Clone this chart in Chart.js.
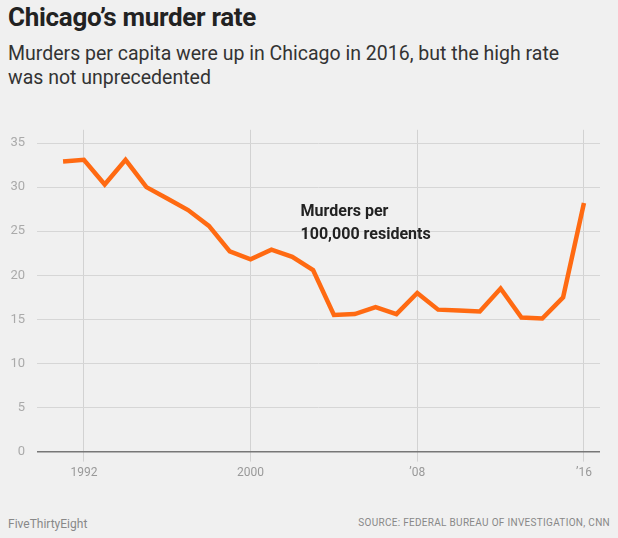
<!DOCTYPE html>
<html>
<head>
<meta charset="utf-8">
<script src="https://cdn.jsdelivr.net/npm/chart.js@4"></script>
<style>
body{margin:0;background:#f0f0f0;font-family:Roboto,"Noto Sans",sans-serif;width:618px;height:538px;overflow:hidden;position:relative}
h1{position:absolute;left:8px;top:2px;margin:0;font-size:26px;font-weight:bold;color:#222;letter-spacing:-0.3px}
.sub{position:absolute;left:8px;top:42px;font-size:19.5px;color:#333;line-height:24px;width:590px}
#wrap{position:absolute;left:0;top:110px;width:618px;height:374px}
.foot{position:absolute;top:517px;font-size:12px;color:#888}
</style>
</head>
<body>
<h1>Chicago’s murder rate</h1>
<div class="sub">Murders per capita were up in Chicago in 2016, but the high rate was not unprecedented</div>
<div id="wrap"><canvas id="c"></canvas></div>
<div class="foot" style="left:8px">FiveThirtyEight</div>
<div class="foot" style="right:8px;font-size:10px;letter-spacing:0.3px">SOURCE: FEDERAL BUREAU OF INVESTIGATION, CNN</div>
<script>
// dades
var years = [1991,1992,1993,1994,1995,1996,1997,1998,1999,2000,2001,2002,2003,2004,2005,2006,2007,2008,2009,2010,2011,2012,2013,2014,2015,2016]
var rate = [32.9,33.1,30.3,33.1,30.0,28.7,27.4,25.6,22.7,21.8,22.9,22.1,20.6,15.5,15.6,16.4,15.6,18.0,16.1,16.0,15.9,18.5,15.2,15.1,17.5,28.2]
var xTicks = [1992,2000,2008,2016]
var xTickLabels = {1992:"1992",2000:"2000",2008:"’08",2016:"’16"}
var yTicks = [0,5,10,15,20,25,30,35]

// etiqueta dins la grafica
var labelPlugin = {
  id: 'label',
  afterDatasetsDraw: function(chart) {
    var ctx = chart.ctx
    var x = chart.scales.x.getPixelForValue(2002.4)
    var y = chart.scales.y.getPixelForValue(27.2)
    ctx.save()
    ctx.fillStyle = '#222'
    ctx.font = 'bold 16px Roboto'
    ctx.textBaseline = 'middle'
    ctx.fillText('Murders per', x, y)
    ctx.fillText('100,000 residents', x, y + 23)
    ctx.restore()
  }
}

new Chart(document.getElementById('c'), {
  type: 'line',
  data: {
    datasets: [{
      data: years.map(function(yr, i) { return {x: yr, y: rate[i]} }),
      borderColor: '#ff6a12',
      borderWidth: 4.5,
      pointRadius: 0,
      tension: 0,
      fill: false
    }]
  },
  plugins: [labelPlugin],
  options: {
    responsive: true,
    maintainAspectRatio: false,
    animation: false,
    layout: {padding: {right: 18, top: 10}},
    plugins: {legend: {display: false}, tooltip: {enabled: false}},
    scales: {
      x: {
        type: 'linear', min: 1989.75, max: 2016.77,
        afterBuildTicks: function(s) { s.ticks = xTicks.map(function(v) { return {value: v} }) },
        ticks: {color: '#999', font: {size: 12, family: 'Roboto'}, padding: 4,
          callback: function(v) { return xTickLabels[v] }},
        grid: {color: '#d2d2d2', tickLength: 10, drawTicks: true},
        border: {display: false}
      },
      y: {
        min: 0, max: 36.5,
        afterBuildTicks: function(s) { s.ticks = yTicks.map(function(v) { return {value: v} }) },
        afterFit: function(s) { s.width = 37 },
        ticks: {color: '#aaa', font: {size: 13, family: 'Roboto'}, padding: 12},
        grid: {color: function(c) { return c.tick && c.tick.value === 0 ? '#777' : '#d6d6d6' },
               lineWidth: function(c) { return c.tick && c.tick.value === 0 ? 1.5 : 1 }, drawTicks: false},
        border: {display: false}
      }
    }
  }
});
</script>
</body>
</html>
